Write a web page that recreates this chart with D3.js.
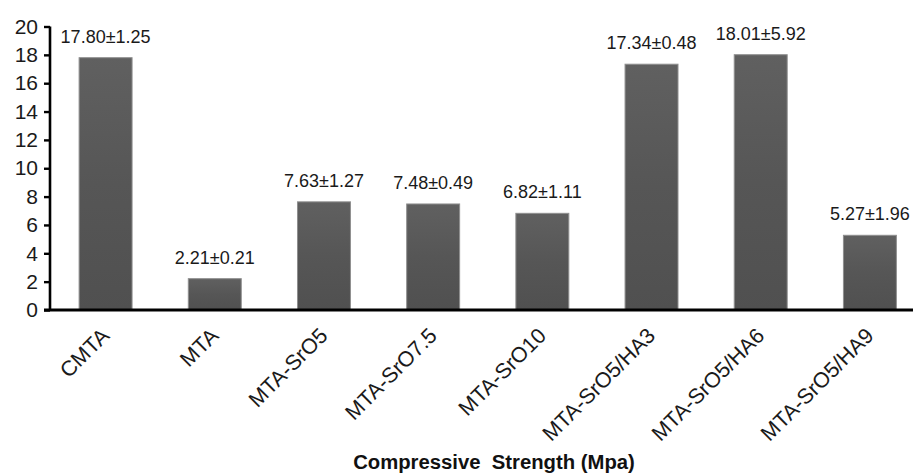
<!DOCTYPE html>
<html>
<head>
<meta charset="utf-8">
<script src="https://cdn.jsdelivr.net/npm/d3@7"></script>
<style>
  html, body { margin: 0; padding: 0; background: #fff; }
  svg { display: block; font-family: "Liberation Sans", Arial, sans-serif; }
</style>
</head>
<body>
<svg id="chart" width="913" height="474"></svg>
<script>
const categories = ["CMTA", "MTA", "MTA-SrO5", "MTA-SrO7.5", "MTA-SrO10", "MTA-SrO5/HA3", "MTA-SrO5/HA6", "MTA-SrO5/HA9"];
const means = [17.80, 2.21, 7.63, 7.48, 6.82, 17.34, 18.01, 5.27];
const sds = [1.25, 0.21, 1.27, 0.49, 1.11, 0.48, 5.92, 1.96];
const yTicks = [0, 2, 4, 6, 8, 10, 12, 14, 16, 18, 20];
const xTitle = "Compressive\u00A0 Strength (Mpa)";

const svg = d3.select("#chart");
const y0 = 310;

const x = d3.scaleBand()
  .domain(categories)
  .range([51, 924.5])
  .paddingInner(0.515)
  .paddingOuter(0.2575);

const y = d3.scaleLinear().domain([0, 20]).range([y0, 26.5]);

const defs = svg.append("defs");
const grad = defs.append("linearGradient")
  .attr("id", "barGrad").attr("x1", 0).attr("y1", 0).attr("x2", 0).attr("y2", 1);
grad.append("stop").attr("offset", "0%").attr("stop-color", "#606060");
grad.append("stop").attr("offset", "50%").attr("stop-color", "#565656");
grad.append("stop").attr("offset", "100%").attr("stop-color", "#505050");

// bars
svg.append("g").selectAll("rect")
  .data(categories)
  .join("rect")
  .attr("x", d => x(d))
  .attr("y", (d, i) => y(means[i]))
  .attr("width", x.bandwidth())
  .attr("height", (d, i) => y(0) - y(means[i]))
  .attr("fill", "url(#barGrad)")
  .attr("stroke", "#8f8f8f")
  .attr("stroke-width", 1);

// value labels
svg.append("g").selectAll("text")
  .data(categories)
  .join("text")
  .attr("x", d => x(d) + x.bandwidth() / 2)
  .attr("y", (d, i) => y(means[i]) - 15)
  .attr("text-anchor", "middle")
  .attr("font-size", "18px")
  .attr("fill", "#1a1a1a")
  .text((d, i) => means[i].toFixed(2) + "\u00B1" + sds[i].toFixed(2));

// y axis
const yAxis = d3.axisLeft(y).tickValues(yTicks).tickSize(6).tickPadding(6).tickFormat(d3.format("d"));
const gy = svg.append("g").attr("transform", "translate(50,0)").call(yAxis);
gy.select(".domain").attr("stroke", "#000").attr("stroke-width", 2.6).attr("d", `M0,${y(20)}V${y0}`);
gy.selectAll(".tick line").attr("stroke", "#000").attr("stroke-width", 2.4);
gy.selectAll(".tick text").attr("font-size", "21px").attr("fill", "#1a1a1a")
  .attr("font-family", "Liberation Sans, Arial, sans-serif");

// x axis
const xAxis = d3.axisBottom(x).tickSize(0).tickPadding(0);
const gx = svg.append("g").attr("transform", `translate(0,${y0})`).call(xAxis);
gx.select(".domain").attr("stroke", "#000").attr("stroke-width", 3).attr("d", `M44,0H913`);
gx.selectAll(".tick text")
  .attr("font-size", "21.5px")
  .attr("fill", "#1a1a1a")
  .attr("font-family", "Liberation Sans, Arial, sans-serif")
  .attr("text-anchor", "end")
  .attr("dy", 0)
  .attr("transform", "translate(5,27) rotate(-45)");

// title
svg.append("text")
  .attr("x", 494)
  .attr("y", 469)
  .attr("text-anchor", "middle")
  .attr("font-size", "20.3px")
  .attr("font-weight", "bold")
  .attr("fill", "#111")
  .text(xTitle);
</script>
</body>
</html>
